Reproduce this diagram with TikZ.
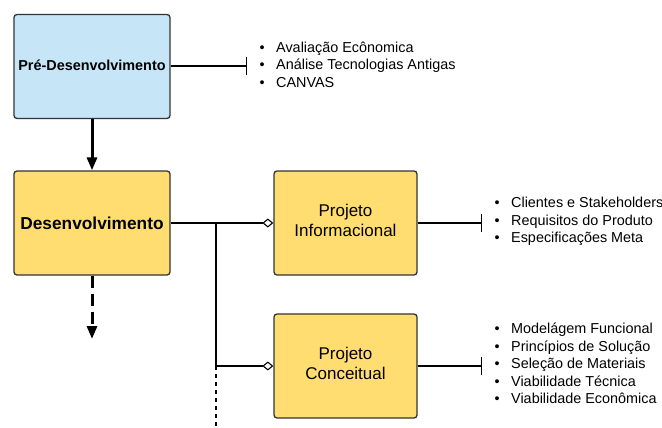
\documentclass[tikz,border=0pt]{standalone}
\usepackage{fontspec}
\setmainfont{Liberation Sans}
\usetikzlibrary{arrows.meta}
\definecolor{phaseblue}{HTML}{C6E5F7}
\definecolor{phaseyellow}{HTML}{FFDD71}
\definecolor{edge}{HTML}{333333}
\newcommand{\bitem}[1]{\makebox[16.5pt][l]{•}#1}
\begin{document}
\begin{tikzpicture}[x=1pt,y=-1pt,
  phase/.style={draw=edge,line width=1.3pt,rounded corners=3pt,
    minimum width=156pt,minimum height=104pt,inner sep=2pt,align=center},
  stage/.style={draw=edge,line width=1.3pt,rounded corners=3pt,fill=phaseyellow,
    minimum width=143pt,minimum height=104pt,inner sep=2pt},
  stagetext/.style={align=center,yshift=3pt,inner sep=0pt,
    font=\fontsize{17}{20}\selectfont},
  notes/.style={anchor=west,inner sep=0pt,align=left,
    font=\fontsize{14.4}{17.4}\selectfont},
  link/.style={line width=1.1pt,draw=black},
  tee/.style={link,-{Bar[width=18pt,line width=1.1pt]}},
  part/.style={link,-{Diamond[open,length=11pt,width=9pt,line width=1.1pt]}},
  flow/.style={line width=3pt,-{Triangle[length=13pt,width=10pt]}}
]
\useasboundingbox (0,0) rectangle (662,428);

% phases
\node[phase,fill=phaseblue,font=\bfseries\fontsize{14.4}{17}\selectfont]
  (pre) at (92,66.5) {\raisebox{2.5pt}{Pré-Desenvolvimento}};
\node[phase,fill=phaseyellow,font=\bfseries\fontsize{17.3}{20}\selectfont]
  (dev) at (92,223) {Desenvolvimento};

% stages of development
\node[stage,label={[stagetext]center:{Projeto\\Informacional}}] (pinf) at (345.5,223) {};
\node[stage,label={[stagetext]center:{Projeto\\Conceitual}}] (pcon) at (345.5,366) {};

% notes
\node[notes] (npre) at (259.5,64.5) {\bitem{Avaliação Ecônomica}\\\bitem{Análise Tecnologias Antigas}\\\bitem{CANVAS}};
\node[notes] (ninf) at (494.5,221.5) {\bitem{Clientes e Stakeholders}\\\bitem{Requisitos do Produto}\\\bitem{Especificações Meta}};
\node[notes] (ncon) at (494.5,363.5) {\bitem{Modelágem Funcional}\\\bitem{Princípios de Solução}\\\bitem{Seleção de Materiais}\\\bitem{Viabilidade Técnica}\\\bitem{Viabilidade Econômica}};

% tee connectors to notes
\coordinate (tpre) at (247,66);
\coordinate (tinf) at (482,223);
\coordinate (tcon) at (482,366);
\draw[tee] (pre.east |- tpre) -- (tpre);
\draw[tee] (pinf.east) -- (tinf);
\draw[tee] (pcon.east) -- (tcon);

% phase flow
\draw[flow] (pre.south) -- (dev.north);
\coordinate (next) at (92,339);
\draw[flow,dash pattern=on 12pt off 6pt] (dev.south) -- (next);

% composition of development
\coordinate (j1) at (216,223);
\coordinate (j2) at (216,366);
\coordinate (jend) at (216,428);
\draw[part] (dev.east) -- (pinf.west);
\draw[part] (j1) -- (j2) -- (pcon.west);
\draw[link,dash pattern=on 4pt off 4pt] (j2) -- (jend);
\end{tikzpicture}
\end{document}
